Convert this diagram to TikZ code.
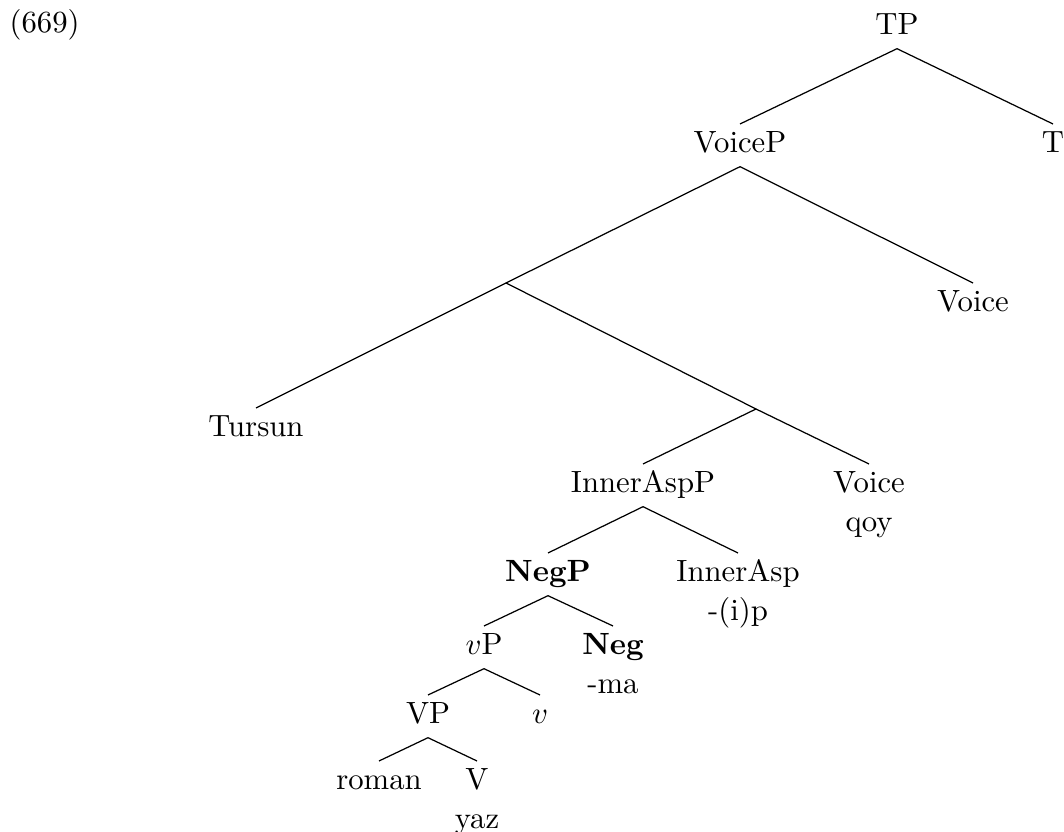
\documentclass[tikz,border=0pt]{standalone}
\usetikzlibrary{positioning}

\begin{document}
\begin{tikzpicture}[
    x=0.3255pt, y=-0.3255pt,
    node distance=-1pt,
    cat/.style={anchor=north, inner sep=2pt, text height=7pt, text depth=2.5pt},
    gloss/.style={inner sep=2pt, text height=7pt, text depth=2.5pt},
    branch/.style={line width=0.4pt},
]
\useasboundingbox (0,0) rectangle (1064,832);

%% EXAMPLE NUMBER
    \node[anchor=base west, inner sep=0pt] (exnum) at (9,33) {(669)};

%% TREE
    % upper part
    \node[cat] (tp) at (897,6) {TP};
    \node[cat] (voicep) at (740,124) {VoiceP};
    \node[cat] (t) at (1053,124) {T};
    \coordinate (voicebar) at (506,283);
    \node[cat] (voicehi) at (973,283) {Voice};
    \node[cat] (tursun) at (256,408) {Tursun};
    \coordinate (innerbar) at (756,409);

    % lower part
    \node[cat] (innerasppp) at (643,464) {InnerAspP};
    \node[cat] (voicelo) at (869,464) {Voice};
    \node[gloss, below=of voicelo] (qoy) {qoy};
    \node[cat] (negp) at (548,553) {\textbf{NegP}};
    \node[cat] (innerasp) at (738,553) {InnerAsp};
    \node[gloss, below=of innerasp] (ip) {-(i)p};
    \node[cat] (vsmallp) at (484,626) {$v$P};
    \node[cat] (neg) at (613,626) {\textbf{Neg}};
    \node[gloss, below=of neg] (ma) {-ma};
    \node[cat] (vp) at (428,695) {VP};
    \node[cat] (vsmall) at (540,695) {$v$};
    \node[cat] (roman) at (379,761) {roman};
    \node[cat] (verb) at (477,761) {V};
    \node[gloss, below=of verb] (yaz) {yaz};

    % branches
    \draw[branch] (tp.south) -- (voicep.north);
    \draw[branch] (tp.south) -- (t.north);
    \draw[branch] (voicep.south) -- (voicebar);
    \draw[branch] (voicep.south) -- (voicehi.north);
    \draw[branch] (voicebar) -- (tursun.north);
    \draw[branch] (voicebar) -- (innerbar);
    \draw[branch] (innerbar) -- (innerasppp.north);
    \draw[branch] (innerbar) -- (voicelo.north);
    \draw[branch] (innerasppp.south) -- (negp.north);
    \draw[branch] (innerasppp.south) -- (innerasp.north);
    \draw[branch] (negp.south) -- (vsmallp.north);
    \draw[branch] (negp.south) -- (neg.north);
    \draw[branch] (vsmallp.south) -- (vp.north);
    \draw[branch] (vsmallp.south) -- (vsmall.north);
    \draw[branch] (vp.south) -- (roman.north);
    \draw[branch] (vp.south) -- (verb.north);

\end{tikzpicture}
\end{document}
